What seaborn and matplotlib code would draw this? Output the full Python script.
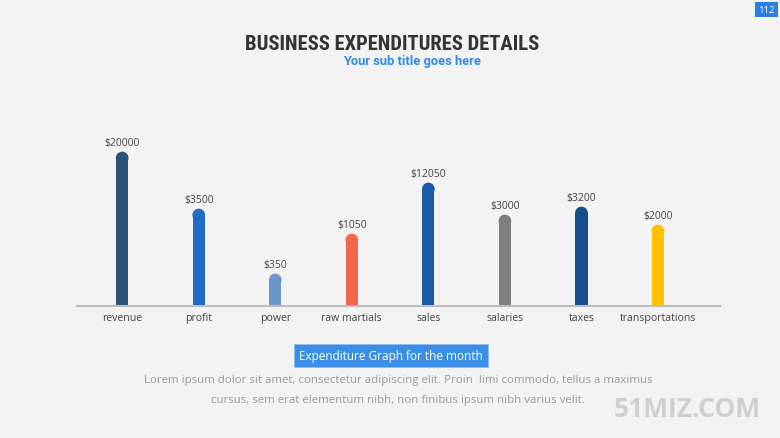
import matplotlib
matplotlib.use("Agg")
import matplotlib.pyplot as plt
import seaborn as sns
import pandas as pd

# Datos del gráfico
categorias = ["revenue", "profit", "power", "raw martials", "sales",
              "salaries", "taxes", "transportations"]
montos = [20000, 3500, 350, 1050, 12050, 3000, 3200, 2000]
# alturas visuales de las barras (no proporcionales a los montos)
alturas = [154, 97, 32, 72, 123, 91, 99, 81]
colores = ["#2c5278", "#1f6cc4", "#6c96c8", "#f2674a", "#1a5aa6",
           "#7f7f7f", "#164d8c", "#ffc000"]

BG = "#f3f3f3"
sns.set_style("white")
plt.rcParams["font.family"] = ["Open Sans", "DejaVu Sans"]

df = pd.DataFrame({"cat": categorias, "alto": alturas})
RADIO = 6  # radio del remate redondeado (en unidades de datos ~ px)
df["cuerpo"] = df["alto"] - RADIO

fig = plt.figure(figsize=(7.8, 4.39), dpi=100, facecolor=BG)
ax = fig.add_axes([77 / 780, 1 - 307 / 439, 643 / 780, 177 / 439])
ax.set_facecolor(BG)

sns.barplot(data=df, x="cat", y="cuerpo", hue="cat", palette=colores,
            width=0.16, saturation=1, legend=False, ax=ax, linewidth=0)
ax.scatter(range(len(categorias)), df["cuerpo"], s=84, c=colores,
           marker="o", linewidths=0, zorder=3)

for i, (m, h) in enumerate(zip(montos, alturas)):
    ax.text(i, h + 4, f"${m}", ha="center", va="bottom", fontsize=7.5,
            color="#444444")

ax.set_xlim(-0.59, 7.81)
ax.set_ylim(0, 177)
ax.set_xlabel("")
ax.set_ylabel("")
ax.set_yticks([])
ax.tick_params(axis="x", length=0, labelsize=7.6, labelcolor="#444444", pad=4)
for s in ["top", "right", "left"]:
    ax.spines[s].set_visible(False)
ax.spines["bottom"].set_color("#bdbdbd")
ax.spines["bottom"].set_linewidth(1.5)

# Títulos
fig.text(392 / 780, 1 - 45 / 439, "BUSINESS EXPENDITURES DETAILS", ha="center",
         va="center", fontsize=14.9, color="#333333", fontweight="bold",
         family=["Roboto Condensed", "DejaVu Sans Condensed",
                 "Liberation Sans Narrow", "Roboto"],
         fontstretch="condensed")
fig.text(412 / 780, 1 - 62 / 439, "Your sub title goes here", ha="center",
         va="center", fontsize=9.3, color="#2f8ae8", fontweight="bold",
         family="Roboto")

# número de página
fig.text(766.5 / 780, 1 - 10.5 / 439, "112", ha="center", va="center",
         fontsize=6.8, color="white",
         bbox=dict(boxstyle="square,pad=0.3", fc="#2a7de1", ec="none"))

# recuadro azul
fig.text(391 / 780, 1 - 356.5 / 439, "Expenditure Graph for the month",
         ha="center", va="center", fontsize=8.5, color="white",
         bbox=dict(boxstyle="square,pad=0.45", fc="#3a8ee6", ec="#8fbdf0",
                   lw=0.6))
fig.text(398 / 780, 1 - 381 / 439,
         "Lorem ipsum dolor sit amet, consectetur adipiscing elit. Proin  limi commodo, tellus a maximus",
         ha="center", va="center", fontsize=8.25, color="#9a9a9a")
fig.text(398 / 780, 1 - 401 / 439,
         "cursus, sem erat elementum nibh, non finibus ipsum nibh varius velit.",
         ha="center", va="center", fontsize=8.25, color="#9a9a9a")

# marca de agua
fig.text(687 / 780, 1 - 410 / 439, "51MIZ.COM", ha="center", va="center",
         fontsize=19, color="#cfcfcf", fontweight="bold", family="Open Sans")

fig.savefig("out.png", dpi=100, facecolor=BG)
